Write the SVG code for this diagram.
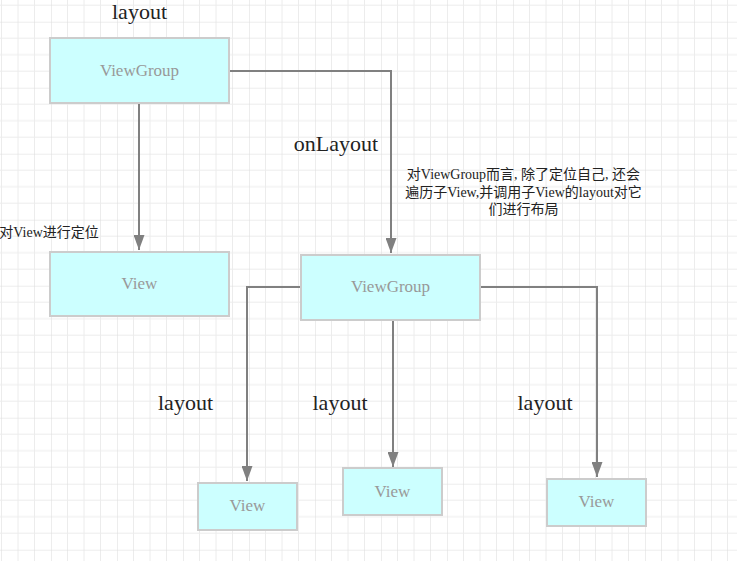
<svg xmlns="http://www.w3.org/2000/svg" width="737" height="561" viewBox="0 0 737 561">
<defs>
<pattern id="grid" x="51" y="21.7" width="66" height="66" patternUnits="userSpaceOnUse">
<path d="M16.5 0V66M33 0V66M49.5 0V66M0 16.5H66M0 33H66M0 49.5H66" stroke="#ececec" stroke-width="1" fill="none"/>
<path d="M0 0V66M0 0H66" stroke="#dcdcdc" stroke-width="1" fill="none"/>
</pattern>
<marker id="arr" viewBox="0 0 15 11" refX="15" refY="5.5" markerWidth="15" markerHeight="11" markerUnits="userSpaceOnUse" orient="auto">
<path d="M0 0L15 5.5L0 11z" fill="#808080"/>
</marker>
</defs>
<style>
.box{fill:#ccffff;stroke:#cccccc;stroke-width:2}
.nt{font-family:"Liberation Serif",serif;font-size:17px;fill:#999999;text-anchor:middle}
.lbl{font-family:"Liberation Serif",serif;font-size:22px;fill:#222222;text-anchor:middle}
.cn{font-family:"Liberation Serif","Noto Sans CJK SC",serif;font-size:14px;fill:#222222;text-anchor:middle}
.edge{fill:none;stroke:#808080;stroke-width:2;marker-end:url(#arr)}
</style>
<rect width="737" height="561" fill="#ffffff"/>
<rect width="737" height="561" fill="url(#grid)"/>
<g id="connectors">
<path class="edge" d="M139 103V250"/>
<path class="edge" d="M229 71H391V253"/>
<path class="edge" d="M301 287H247V481"/>
<path class="edge" d="M393 320V467"/>
<path class="edge" d="M480 287H597V477"/>
</g>
<g id="vg-top"><rect class="box" x="50" y="38" width="179" height="65"/><text class="nt" x="139.5" y="75.5">ViewGroup</text></g>
<g id="view-left"><rect class="box" x="50" y="252" width="179" height="64"/><text class="nt" x="139.5" y="288.5">View</text></g>
<g id="vg-mid"><rect class="box" x="301" y="255" width="179" height="65"/><text class="nt" x="390.5" y="292">ViewGroup</text></g>
<g id="view-b1"><rect class="box" x="198" y="483" width="99" height="47"/><text class="nt" x="247.5" y="511">View</text></g>
<g id="view-b2"><rect class="box" x="343" y="468" width="99" height="47"/><text class="nt" x="392.5" y="496.5">View</text></g>
<g id="view-b3"><rect class="box" x="547" y="479" width="99" height="47"/><text class="nt" x="596.5" y="507">View</text></g>
<g id="labels">
<text class="lbl" x="139.5" y="19">layout</text>
<text class="lbl" x="336" y="151">onLayout</text>
<text class="lbl" x="185.5" y="410">layout</text>
<text class="lbl" x="340" y="410">layout</text>
<text class="lbl" x="545" y="410">layout</text>
<text class="cn" x="49" y="237">对View进行定位</text>
<text class="cn" x="523.5" y="179">对ViewGroup而言, 除了定位自己, 还会</text>
<text class="cn" x="523.5" y="196.5">遍历子View,并调用子View的layout对它</text>
<text class="cn" x="523.5" y="213.5">们进行布局</text>
</g>
</svg>
